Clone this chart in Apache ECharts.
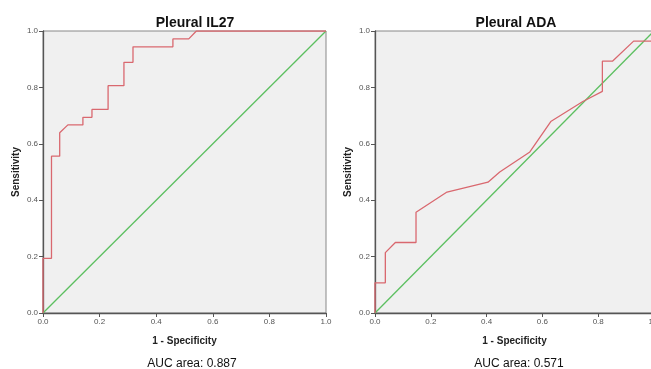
<!DOCTYPE html>
<html>
<head>
<meta charset="utf-8">
<script src="https://cdn.jsdelivr.net/npm/echarts@6/dist/echarts.min.js"></script>
<style>
html,body{margin:0;padding:0;background:#fff;overflow:hidden;width:651px;height:369px;}
#c{width:664px;height:369px;}
</style>
</head>
<body>
<div id="c"></div>
<script>
// ---- Data ----
const titles = ["Pleural IL27", "Pleural ADA"];
const aucLabels = ["AUC area: 0.887", "AUC area: 0.571"];
const axisTicks = [0, 0.2, 0.4, 0.6, 0.8, 1.0];

const il27Fpr = [0, 0, 0.03, 0.03, 0.059, 0.059, 0.088, 0.141, 0.141, 0.173, 0.173, 0.23, 0.23, 0.286, 0.286, 0.318, 0.318, 0.459, 0.459, 0.515, 0.542, 1];
const il27Tpr = [0, 0.194, 0.194, 0.556, 0.556, 0.639, 0.667, 0.667, 0.694, 0.694, 0.722, 0.722, 0.806, 0.806, 0.889, 0.889, 0.944, 0.944, 0.972, 0.972, 1, 1];

const adaFpr = [0, 0, 0.037, 0.037, 0.073, 0.147, 0.147, 0.258, 0.405, 0.447, 0.555, 0.63, 0.745, 0.815, 0.815, 0.851, 0.927, 1, 1];
const adaTpr = [0, 0.107, 0.107, 0.214, 0.25, 0.25, 0.357, 0.429, 0.464, 0.5, 0.571, 0.679, 0.75, 0.786, 0.893, 0.893, 0.964, 0.964, 1];

const refX = [0, 1];
const refY = [0, 1];

const zip = (a, b) => a.map((v, i) => [v, b[i]]);

const RED = '#d9686f';
const GREEN = '#5cbf60';
const AXIS = '#555';

function xAxis(gi) {
  return {
    gridIndex: gi, type: 'value', min: 0, max: 1, interval: 0.2,
    name: '1 - Specificity', nameLocation: 'middle', nameGap: 23,
    nameTextStyle: {fontFamily: 'Liberation Sans, Arial', fontWeight: 'bold', fontSize: 10, color: '#222'},
    axisLine: {show: true, onZero: false, lineStyle: {color: AXIS, width: 1.3}},
    axisTick: {show: true, length: 4, inside: false, lineStyle: {color: AXIS}},
    axisLabel: {margin: 5, fontSize: 8, color: '#555', fontFamily: 'Liberation Sans, Arial',
      formatter: v => v.toFixed(1)},
    splitLine: {show: false}
  };
}
function yAxis(gi) {
  return {
    gridIndex: gi, type: 'value', min: 0, max: 1, interval: 0.2,
    name: 'Sensitivity', nameLocation: 'middle', nameGap: 22, nameRotate: 90,
    nameTextStyle: {fontFamily: 'Liberation Sans, Arial', fontWeight: 'bold', fontSize: 10, color: '#222'},
    axisLine: {show: true, onZero: false, lineStyle: {color: AXIS, width: 1.3}},
    axisTick: {show: true, length: 4, inside: false, lineStyle: {color: AXIS}},
    axisLabel: {margin: 5, fontSize: 8, color: '#555', fontFamily: 'Liberation Sans, Arial',
      formatter: v => v.toFixed(1)},
    splitLine: {show: false}
  };
}

const chart = echarts.init(document.getElementById('c'), null, {renderer: 'canvas'});
chart.setOption({
  animation: false,
  backgroundColor: '#fff',
  title: [
    {text: titles[0], left: 190, top: 11, textAlign: 'center',
      textStyle: {fontFamily: 'Liberation Sans, Arial', fontWeight: 'bold', fontSize: 14, color: '#111'}},
    {text: titles[1], left: 511, top: 11, textAlign: 'center',
      textStyle: {fontFamily: 'Liberation Sans, Arial', fontWeight: 'bold', fontSize: 14, color: '#111'}},
    {text: aucLabels[0], left: 187, top: 353, textAlign: 'center',
      textStyle: {fontFamily: 'Liberation Sans, Arial', fontWeight: 'normal', fontSize: 12, color: '#111'}},
    {text: aucLabels[1], left: 514, top: 353, textAlign: 'center',
      textStyle: {fontFamily: 'Liberation Sans, Arial', fontWeight: 'normal', fontSize: 12, color: '#111'}}
  ],
  grid: [
    {left: 43, top: 31, width: 283, height: 282, show: true, backgroundColor: '#f0f0f0', borderColor: '#888', borderWidth: 1},
    {left: 375, top: 31, width: 279, height: 282, show: true, backgroundColor: '#f0f0f0', borderColor: '#888', borderWidth: 1}
  ],
  xAxis: [xAxis(0), xAxis(1)],
  yAxis: [yAxis(0), yAxis(1)],
  series: [
    {type: 'line', xAxisIndex: 0, yAxisIndex: 0, data: zip(refX, refY), symbol: 'none',
      lineStyle: {color: GREEN, width: 1.3}},
    {type: 'line', xAxisIndex: 0, yAxisIndex: 0, data: zip(il27Fpr, il27Tpr), symbol: 'none',
      lineStyle: {color: RED, width: 1.3}},
    {type: 'line', xAxisIndex: 1, yAxisIndex: 1, data: zip(refX, refY), symbol: 'none',
      lineStyle: {color: GREEN, width: 1.3}},
    {type: 'line', xAxisIndex: 1, yAxisIndex: 1, data: zip(adaFpr, adaTpr), symbol: 'none',
      lineStyle: {color: RED, width: 1.3}}
  ]
});
</script>
</body>
</html>
